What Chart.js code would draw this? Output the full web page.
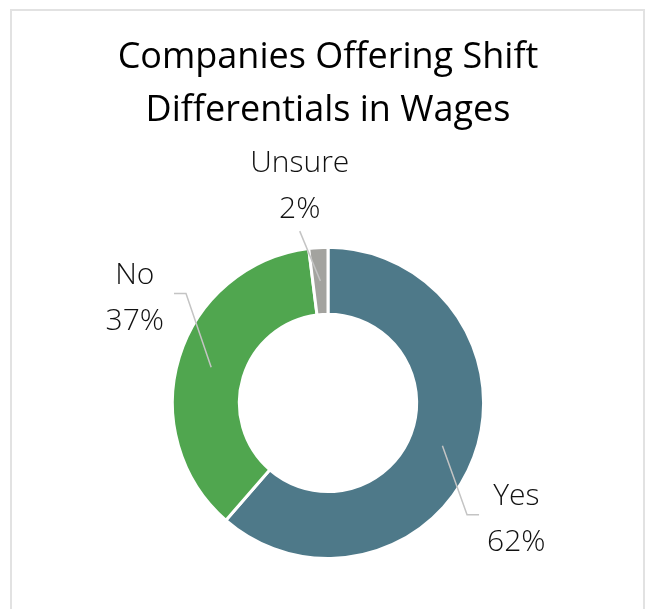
<!DOCTYPE html>
<html>
<head>
<meta charset="utf-8">
<script src="https://cdn.jsdelivr.net/npm/chart.js@4.4.0/dist/chart.umd.min.js"></script>
<style>
  html, body { margin: 0; padding: 0; background: #fff; overflow: hidden; }
  #frame {
    position: absolute; left: 10px; top: 9px; width: 635px; height: 700px;
    box-sizing: border-box; border: 2px solid #e2e2e2;
  }
  #shiftChart { position: absolute; left: 0; top: 0; }
</style>
</head>
<body>
<div id="frame"></div>
<canvas id="shiftChart" width="655" height="609"></canvas>
<script>
// chart data
const categories = ["Yes", "No", "Unsure"];
const shares = [62, 37, 2];
const titleLines = ["Companies Offering Shift", "Differentials in Wages"];

const sliceColors = ["#4e7989", "#50a64f", "#a3a39f"];
// label placement tweaks (degrees off the slice middle)
const labelNudge = [10.9, 11.9, -3.8];

const labelFont = '300 30px "Open Sans"';

// draws the "Yes / 62%" labels and the grey leader lines
const outsideLabels = {
  id: "outsideLabels",
  afterDraw(chart) {
    const ctx = chart.ctx;
    const arcs = chart.getDatasetMeta(0).data;
    ctx.save();
    ctx.font = labelFont;
    ctx.textAlign = "center";
    ctx.textBaseline = "middle";

    arcs.forEach((arc, i) => {
      const p = arc.getProps(["x", "y", "startAngle", "endAngle", "innerRadius", "outerRadius"], true);
      const mid = (p.startAngle + p.endAngle) / 2;
      const rMid = (p.innerRadius + p.outerRadius) / 2;
      const ax = p.x + rMid * Math.cos(mid);
      const ay = p.y + rMid * Math.sin(mid);

      const la = mid + labelNudge[i] * Math.PI / 180;
      const lr = p.outerRadius + 65;
      const cx = p.x + lr * Math.cos(la);
      const cy = p.y + lr * Math.sin(la) + 2;

      const lines = [categories[i], shares[i] + "%"];
      const w = Math.max(...lines.map(t => ctx.measureText(t).width));

      // leader line
      ctx.strokeStyle = "#c4c4c4";
      ctx.lineWidth = 1.5;
      ctx.beginPath();
      if (Math.abs(Math.cos(la)) < 0.3) {
        ctx.moveTo(cx, cy + 45);
        ctx.lineTo(ax, ay);
      } else if (Math.cos(la) > 0) {
        const left = cx - w / 2;
        ctx.moveTo(ax, ay);
        ctx.lineTo(left - 20, cy - 5);
        ctx.lineTo(left - 8, cy - 5);
      } else {
        const right = cx + w / 2;
        ctx.moveTo(ax, ay);
        ctx.lineTo(right + 22, cy - 5);
        ctx.lineTo(right + 10, cy - 5);
      }
      ctx.stroke();

      ctx.fillStyle = "#111111";
      ctx.fillText(lines[0], cx, cy - 23);
      ctx.fillText(lines[1], cx, cy + 23);
    });
    ctx.restore();
  },
};

const ctx = document.getElementById("shiftChart").getContext("2d");
new Chart(ctx, {
  type: "doughnut",
  data: {
    labels: categories,
    datasets: [
      {
        data: shares,
        backgroundColor: sliceColors,
        borderColor: "#ffffff",
        borderWidth: 3,
      },
    ],
  },
  options: {
    responsive: false,
    animation: false,
    events: [],
    cutout: "57%",
    layout: {
      padding: { left: 1, right: 0, top: 0, bottom: 49 },
    },
    plugins: {
      legend: { display: false },
      tooltip: { enabled: false },
      title: {
        display: true,
        text: titleLines,
        color: "#000000",
        font: { family: '"Open Sans"', size: 36, weight: "normal", lineHeight: 1.47 },
        padding: { top: 31, bottom: 109 },
      },
    },
  },
  plugins: [outsideLabels],
});
</script>
</body>
</html>
